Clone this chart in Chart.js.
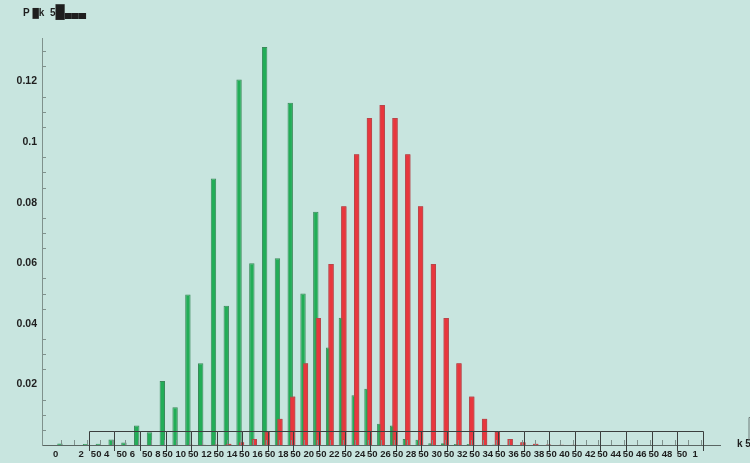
<!DOCTYPE html>
<html>
<head>
<meta charset="utf-8">
<script src="https://cdn.jsdelivr.net/npm/chart.js@4/dist/chart.umd.min.js"></script>
<style>
  html, body { margin: 0; padding: 0; background: #c8e5df; }
  #wrap { width: 750px; height: 463px; }
</style>
</head>
<body>
<div id="wrap"><canvas id="chart" width="750" height="463"></canvas></div>
<script>
// ========== DATA ==========
const kValues = [
  0, 1, 2, 3, 4, 5, 6, 7, 8, 9, 10, 11, 12, 13, 14, 15, 16, 17, 18, 19, 20, 21, 22, 23, 24, 25,
  26, 27, 28, 29, 30, 31, 32, 33, 34, 35, 36, 37, 38, 39, 40, 41, 42, 43, 44, 45, 46, 47, 48, 49, 50
];

const greenProb = [
  0.0005, 0, 0.0003, 0.0004, 0.0018, 0.0008, 0.0064, 0.0042, 0.0211, 0.0125,
  0.0497, 0.0270, 0.0880, 0.0460, 0.1207, 0.0600, 0.1314, 0.0617, 0.1130, 0.0500,
  0.0770, 0.0322, 0.0420, 0.0164, 0.0186, 0.0070, 0.0064, 0.0020, 0.0017, 0.0006,
  0.0006, 0.0003, 0.0003, 0.0001, 0.0002, 0, 0, 0, 0, 0,
  0, 0, 0, 0, 0, 0, 0, 0, 0, 0, 0
];

const redProb = [
  0, 0, 0, 0, 0, 0, 0, 0, 0, 0,
  0.0001, 0.0001, 0.0002, 0.0004, 0.0009, 0.0020, 0.0044, 0.0087, 0.0160, 0.0270,
  0.0419, 0.0598, 0.0788, 0.0960, 0.1080, 0.1123, 0.1080, 0.0960, 0.0788, 0.0598,
  0.0419, 0.0270, 0.0160, 0.0087, 0.0044, 0.0020, 0.0009, 0.0004, 0.0002, 0.0001,
  0.0001, 0, 0, 0, 0, 0, 0, 0, 0, 0, 0
];

// labels under k = 0, 2, 4, ... 50
const xTickLabels = [
  '0', '2', '50 4', '50 6', '50 8', '50 10', '50 12', '50 14', '50 16', '50 18',
  '50 20', '50 22', '50 24', '50 26', '50 28', '50 30', '50 32', '50 34', '50 36', '50 38',
  '50 40', '50 42', '50 44', '50 46', '50 48', '50  1'
];

const yTickValues = [0.02, 0.04, 0.06, 0.08, 0.1, 0.12];
const yTickLabels = ['0.02', '0.04', '0.06', '0.08', '0.1', '0.12'];

// title pieces: [text, font size]
const titleParts = [['P ', 10], ['\u2588', 9], ['k', 10], ['  5', 10], ['\u2588', 13], ['\u2584\u2584\u2584', 10]];
const axisEndText = 'k 5';

const FONT = '"Liberation Sans", Arial, sans-serif';

// ========== DECORATION PLUGIN ==========
const decorPlugin = {
  id: 'decor',
  afterDatasetsDraw(chart) {
    // red bars sit over the green ones
    chart.getDatasetMeta(1).controller.draw();
  },
  afterDraw(chart) {
    const { ctx, chartArea, scales: { x, y } } = chart;
    const bottom = chartArea.bottom;
    ctx.save();
    ctx.lineWidth = 1;

    // small inner ticks on y axis
    ctx.strokeStyle = '#7f918c';
    y.ticks.forEach(t => {
      const n = Math.round(t.value / 0.005);
      if (Math.abs(t.value - n * 0.005) > 1e-9 || n % 4 === 0) return;
      const py = Math.round(y.getPixelForValue(t.value)) + 0.5;
      ctx.beginPath();
      ctx.moveTo(chartArea.left, py);
      ctx.lineTo(chartArea.left + 4, py);
      ctx.stroke();
    });

    // small inner ticks on x axis
    kValues.forEach(k => {
      const px = Math.round(x.getPixelForValue(k)) + 0.5;
      ctx.beginPath();
      ctx.moveTo(px, bottom);
      ctx.lineTo(px, bottom - 5);
      ctx.stroke();
    });

    // boxes round the labels
    ctx.strokeStyle = '#3b3f3e';
    for (let k = 4; k <= 50; k += 2) {
      const l = Math.round(x.getPixelForValue(k - 2) + 2) + 0.5;
      const r = Math.round(x.getPixelForValue(k) + 3) - 0.5;
      const top = bottom - 14 + 0.5;
      ctx.beginPath();
      ctx.moveTo(l, bottom + 6);
      ctx.lineTo(l, top);
      ctx.lineTo(r, top);
      ctx.lineTo(r, bottom + 6);
      ctx.stroke();
    }

    // title at top left
    ctx.fillStyle = '#1e1e1e';
    ctx.textBaseline = 'alphabetic';
    let tx = 23;
    titleParts.forEach(([txt, size]) => {
      ctx.font = 'bold ' + size + 'px ' + FONT;
      ctx.fillText(txt, tx, 16);
      tx += ctx.measureText(txt).width;
    });

    // axis end label
    ctx.font = 'bold 10px ' + FONT;
    ctx.textBaseline = 'middle';
    ctx.fillText(axisEndText, chartArea.right + 17, bottom - 1);
    ctx.strokeStyle = '#6f7d7a';
    ctx.beginPath();
    ctx.moveTo(chartArea.right + 29, bottom - 4);
    ctx.lineTo(chartArea.right + 29, bottom - 27.5);
    ctx.lineTo(chartArea.right + 31, bottom - 27.5);
    ctx.stroke();
    ctx.restore();
  }
};

// ========== CHART ==========
const chart = new Chart(document.getElementById('chart'), {
  type: 'bar',
  data: {
    labels: kValues,
    datasets: [
      {
        label: 'green',
        data: greenProb,
        backgroundColor: '#22ad57',
        borderColor: '#3a8a5a',
        borderWidth: 1
      },
      {
        label: 'red',
        data: redProb,
        backgroundColor: '#e8373d',
        borderColor: '#b8464a',
        borderWidth: 1
      }
    ]
  },
  options: {
    responsive: false,
    animation: false,
    devicePixelRatio: 1,
    categoryPercentage: 0.383,
    barPercentage: 2.2,
    layout: { padding: { left: 0, right: 30, top: 38, bottom: 0 } },
    plugins: {
      legend: { display: false },
      tooltip: { enabled: false },
      title: { display: false }
    },
    scales: {
      x: {
        type: 'linear',
        min: -1,
        max: 51,
        afterFit: s => { s.height = 18; },
        grid: { display: false, drawTicks: false },
        border: { color: '#5a6663', width: 1 },
        ticks: {
          stepSize: 1,
          autoSkip: false,
          maxRotation: 0,
          align: 'end',
          labelOffset: -3,
          padding: 4,
          color: '#1e1e1e',
          font: { family: FONT, size: 9.5, weight: 'bold' },
          callback: v => (v >= 0 && v <= 50 && v % 2 === 0) ? xTickLabels[v / 2] : ''
        }
      },
      y: {
        min: 0,
        max: 0.1344,
        afterFit: s => { s.width = 42; },
        grid: { display: false, drawTicks: false },
        border: { color: '#7f918c', width: 1 },
        ticks: {
          stepSize: 0.005,
          autoSkip: false,
          padding: 5,
          color: '#1e1e1e',
          font: { family: FONT, size: 10.5, weight: 'bold' },
          callback: v => {
            const i = yTickValues.findIndex(t => Math.abs(t - v) < 1e-9);
            return i >= 0 ? yTickLabels[i] : '';
          }
        }
      }
    }
  },
  plugins: [decorPlugin]
});
</script>
</body>
</html>
